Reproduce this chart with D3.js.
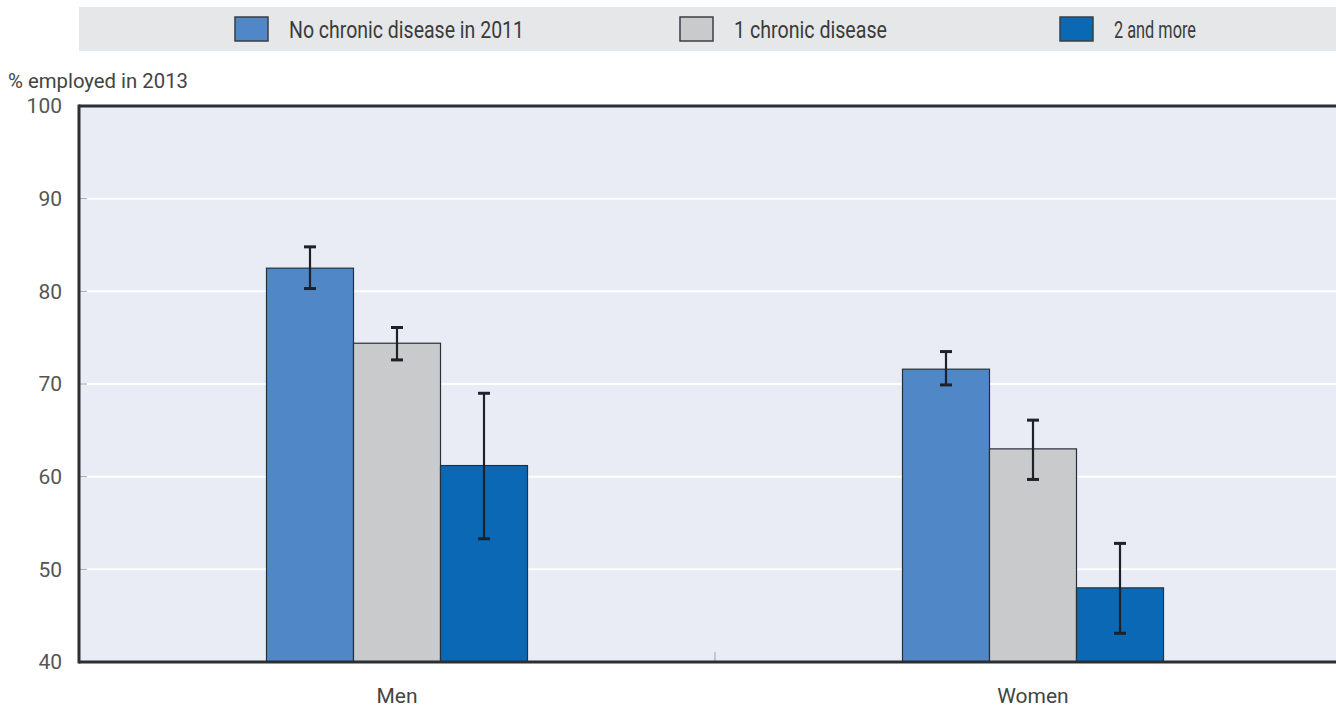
<!DOCTYPE html>
<html><head><meta charset="utf-8">
<script src="https://cdn.jsdelivr.net/npm/d3@7"></script>
<style>
html,body{margin:0;padding:0;background:#fff;overflow:hidden}
text{font-family:"Roboto","Liberation Sans",sans-serif;}
</style></head><body>
<svg id="c" width="1336" height="711"></svg>
<script>
const groups = ["Men", "Women"];
const seriesNames = ["No chronic disease in 2011", "1 chronic disease", "2 and more"];
const seriesColors = ["#4f87c7", "#c9cacc", "#0a68b4"];
const valNone = [82.5, 71.6];
const valOne = [74.4, 63.0];
const valTwo = [61.2, 48.0];
const lowNone = [80.3, 69.9];
const highNone = [84.8, 73.5];
const lowOne = [72.6, 59.7];
const highOne = [76.1, 66.1];
const lowTwo = [53.3, 43.1];
const highTwo = [69.0, 52.8];
const yTicks = [40, 50, 60, 70, 80, 90, 100];

const values = [valNone, valOne, valTwo];
const lows = [lowNone, lowOne, lowTwo];
const highs = [highNone, highOne, highTwo];

const svg = d3.select("#c");
const L = 79, R = 1351, T = 106, B = 662;
const y = d3.scaleLinear().domain([40, 100]).range([B, T]);
const x0 = d3.scaleBand().domain(groups).range([L, R]).paddingInner(0).paddingOuter(0);
const x1 = d3.scaleBand().domain(seriesNames).range([0, x0.bandwidth()]).paddingOuter(2.155).paddingInner(0);

// legend band
svg.append("rect").attr("x", 79).attr("y", 7).attr("width", 1257).attr("height", 44).attr("fill", "#e6e7e9");
const legX = [235, 680, 1060];
const legW = [235, 153, 82];
seriesNames.forEach((s, i) => {
  svg.append("rect").attr("x", legX[i]).attr("y", 17).attr("width", 33).attr("height", 24)
    .attr("fill", seriesColors[i]).attr("stroke", "#3a3f45").attr("stroke-width", 1.5);
  svg.append("text").attr("x", legX[i] + 54).attr("y", 38).attr("font-size", 23).attr("fill", "#3b3b3b")
    .attr("textLength", legW[i]).attr("lengthAdjust", "spacingAndGlyphs")
    .text(s);
});

// plot background
svg.append("rect").attr("x", L).attr("y", T).attr("width", R - L).attr("height", B - T).attr("fill", "#e9ebf5");

// grid
svg.append("g").selectAll("line").data(yTicks.filter(t => t > 40 && t < 100)).join("line")
  .attr("x1", L).attr("x2", R).attr("y1", d => y(d)).attr("y2", d => y(d))
  .attr("stroke", "#ffffff").attr("stroke-width", 2);

// y axis
const yAxis = svg.append("g").attr("transform", `translate(${L},0)`)
  .call(d3.axisLeft(y).tickValues(yTicks).tickSize(0).tickPadding(17));
yAxis.select(".domain").remove();
yAxis.selectAll("text").attr("font-size", 21).attr("fill", "#555")
  .attr("font-family", "Roboto, sans-serif")
  .attr("transform", "scale(0.88,1)").attr("x", -17 / 0.88);
yAxis.selectAll(".tick").each(function () {
  const t = d3.select(this).select("text");
  t.attr("transform", null).attr("x", -17).attr("textLength", null);
});
svg.append("g").selectAll("line").data(yTicks.filter(t => t > 40 && t < 100)).join("line")
  .attr("x1", L).attr("x2", L + 8).attr("y1", d => y(d)).attr("y2", d => y(d))
  .attr("stroke", "#9aa0a8").attr("stroke-width", 1);

svg.append("text").attr("x", 8).attr("y", 88).attr("font-size", 20).attr("fill", "#444")
  .attr("textLength", 180).attr("lengthAdjust", "spacingAndGlyphs").text("% employed in 2013");

// separator tick
svg.append("line").attr("x1", x0("Women")).attr("x2", x0("Women")).attr("y1", B - 10).attr("y2", B)
  .attr("stroke", "#9aa0a8").attr("stroke-width", 1);

// bars
seriesNames.forEach((s, si) => {
  svg.append("g").selectAll("rect").data(groups).join("rect")
    .attr("x", g => x0(g) + x1(s))
    .attr("y", (g, gi) => y(values[si][gi]))
    .attr("width", x1.bandwidth())
    .attr("height", (g, gi) => B - y(values[si][gi]))
    .attr("fill", seriesColors[si]).attr("stroke", "#27313b").attr("stroke-width", 1.2);
});

// error bars
seriesNames.forEach((s, si) => {
  const g = svg.append("g").attr("stroke", "#1d2228").attr("stroke-width", 2.2);
  groups.forEach((grp, gi) => {
    const cx = x0(grp) + x1(s) + x1.bandwidth() / 2;
    g.append("line").attr("x1", cx).attr("x2", cx).attr("y1", y(highs[si][gi])).attr("y2", y(lows[si][gi]));
    g.append("line").attr("x1", cx - 6).attr("x2", cx + 6).attr("y1", y(highs[si][gi])).attr("y2", y(highs[si][gi])).attr("stroke-width", 3);
    g.append("line").attr("x1", cx - 6).attr("x2", cx + 6).attr("y1", y(lows[si][gi])).attr("y2", y(lows[si][gi])).attr("stroke-width", 3);
  });
});

// borders
svg.append("line").attr("x1", L).attr("x2", R).attr("y1", T).attr("y2", T).attr("stroke", "#2b2f33").attr("stroke-width", 3);
svg.append("line").attr("x1", L).attr("x2", R).attr("y1", B).attr("y2", B).attr("stroke", "#2b2f33").attr("stroke-width", 3);
svg.append("line").attr("x1", L).attr("x2", L).attr("y1", T - 1.5).attr("y2", B + 1.5).attr("stroke", "#2b2f33").attr("stroke-width", 3);

// x labels
const xAxis = svg.append("g").attr("transform", `translate(0,${B})`)
  .call(d3.axisBottom(x0).tickSize(0).tickPadding(26));
xAxis.select(".domain").remove();
xAxis.selectAll("text").attr("font-size", 21).attr("fill", "#444");
</script></body></html>
